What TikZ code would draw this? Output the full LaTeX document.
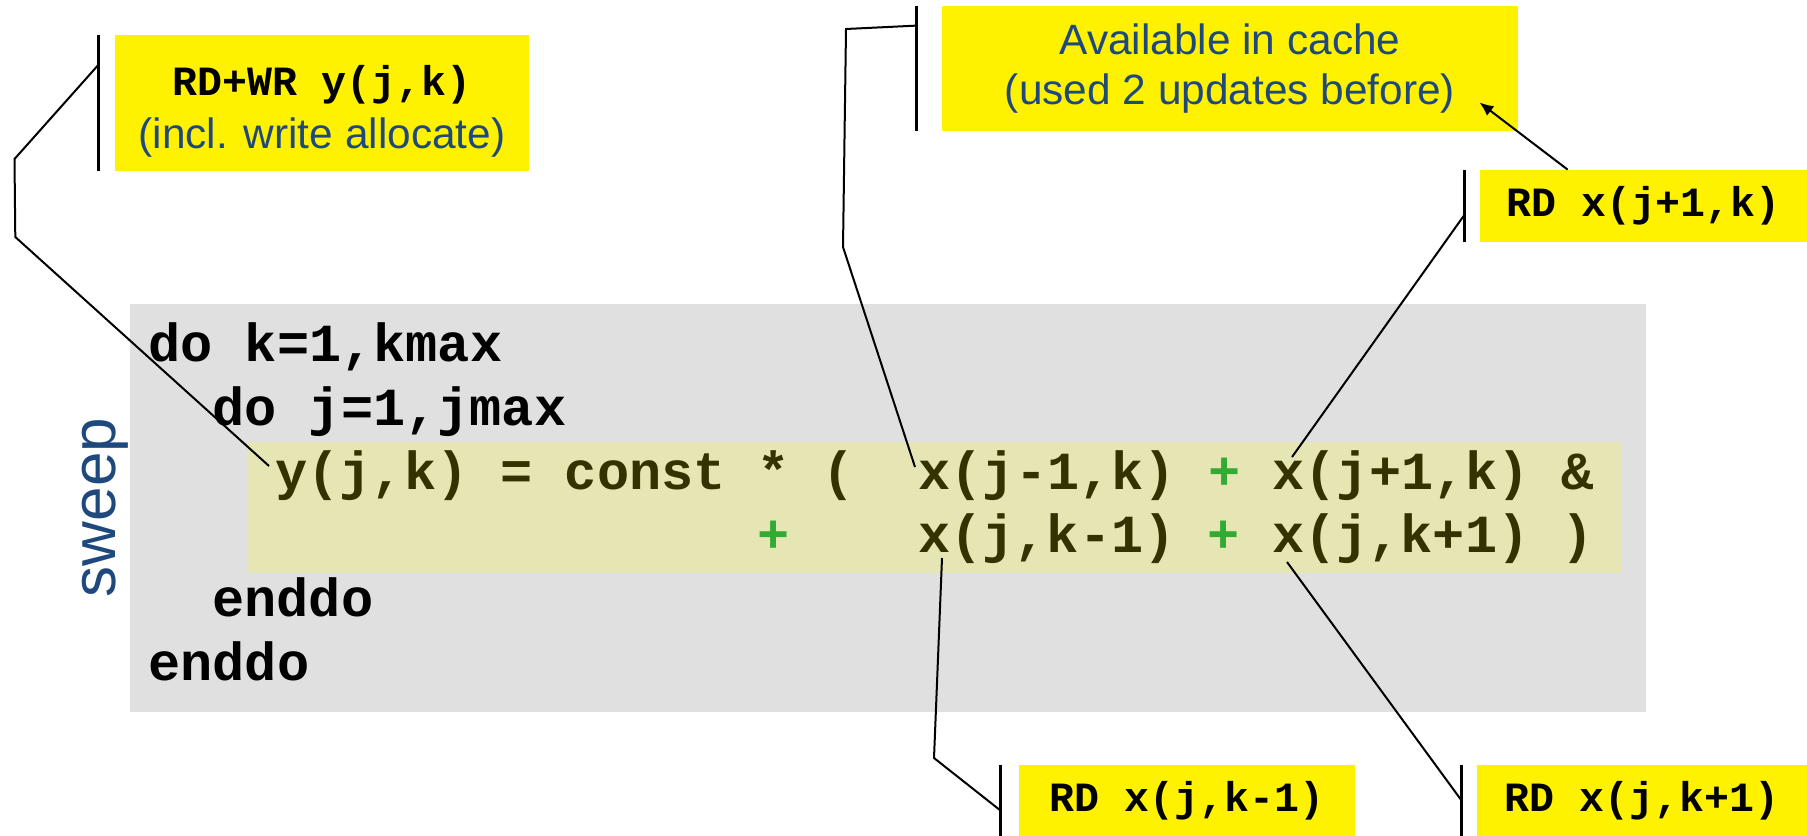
\documentclass[tikz,border=0pt]{standalone}
\usepackage{fontspec}
\setmainfont{Liberation Sans}
\setmonofont{Liberation Mono}
\usetikzlibrary{arrows.meta,calc}
\definecolor{fondgris}{RGB}{224,224,224}
\definecolor{fondboucle}{RGB}{230,230,180}
\definecolor{texteboucle}{RGB}{51,51,0}
\definecolor{vertplus}{RGB}{51,170,51}
\definecolor{bleunote}{RGB}{31,73,125}
\newcommand{\vp}{{\color{vertplus}+}}
\tikzset{
  note/.style={fill=yellow, inner sep=0pt, align=center},
  code/.style={anchor=base west, inner sep=0pt, font=\ttfamily\bfseries\fontsize{26.8pt}{32pt}\selectfont},
  rd/.style={font=\ttfamily\bfseries\fontsize{20.8pt}{26pt}\selectfont},
  fil/.style={line width=1pt},
  barre/.style={line width=1.2pt},
}
\begin{document}
\begin{tikzpicture}[x=0.5pt, y=-0.5pt]
  \useasboundingbox (0,0) rectangle (1807,835);
  % dessiner le fond du code
  \fill[fondgris] (130,304) rectangle (1646,712);
  \fill[fondboucle] (247,442) rectangle (1621,573);

  % dessiner les lignes de code
  \node[code] (boucleK) at (148,361) {do k=1,kmax};
  \node[code] (boucleJ) at (212,425) {do j=1,jmax};
  \node[code, text=texteboucle] (instrA) at (275,489) {y(j,k) = const * (~~x(j-1,k) \vp{} x(j+1,k) \&};
  \node[code, text=texteboucle] (instrB) at (757,552) {\vp~~~~x(j,k-1) \vp{} x(j,k+1) )};
  \node[code] (finJ) at (212,616) {enddo};
  \node[code] (finK) at (148,680) {enddo};
  \node[rotate=90, anchor=base, inner sep=0pt, text=bleunote, font=\fontsize{31pt}{36pt}\selectfont] (sweep) at (115,507.5) {sweep};

  % dessiner les notes
  \node[note, minimum width=207pt, minimum height=68pt, font=\fontsize{21.2pt}{26.6pt}\selectfont] (rdwr) at (322,103)
    {\rule{0pt}{23pt}{\ttfamily\bfseries\fontsize{20.8pt}{26.6pt}\selectfont RD+WR y(j,k)}\\{\color{bleunote}(incl. write allocate)}};
  \node[note, minimum width=288pt, minimum height=62.5pt, text=bleunote, font=\fontsize{21.2pt}{25.3pt}\selectfont] (cache) at (1230,68.5)
    {Available in cache\\(used 2 updates before)};
  \node[note, rd, minimum width=163.5pt, minimum height=36pt] (rdxjp) at (1643.5,206) {RD x(j+1,k)};
  \node[note, rd, minimum width=168pt, minimum height=36pt] (rdxkm) at (1187,801) {RD x(j,k-1)};
  \node[note, rd, minimum width=165pt, minimum height=36pt] (rdxkp) at (1642,801) {RD x(j,k+1)};

  % dessiner les barres
  \foreach \b/\d in {rdwr/8pt, cache/12.5pt, rdxjp/7.5pt, rdxkm/9pt, rdxkp/7.5pt}
    \draw[barre] ([xshift=-\d]\b.north west) -- ([xshift=-\d]\b.south west);

  % points d'attache
  \coordinate (yjk) at (269,466);
  \coordinate (xjm) at (915,467);
  \coordinate (xjp) at (1292,457);
  \coordinate (xkm) at (942,558);
  \coordinate (xkp) at (1287,562);
  \coordinate (rdwr-b) at ($(rdwr.north west)+(-16,30)$);
  \coordinate (cache-b) at ($(cache.north west)+(-25,20)$);
  \coordinate (rdxjp-b) at ($(rdxjp.north west)+(-15,45)$);
  \coordinate (rdxkm-b) at ($(rdxkm.north west)+(-18,46)$);
  \coordinate (rdxkp-b) at ($(rdxkp.north west)+(-15,36)$);
  \coordinate (fleche-a) at ($(rdxjp.north west)+(88,0)$);
  \coordinate (fleche-b) at ($(cache.south east)+(-39,-29)$);

  % dessiner les traits
  \draw[fil] (rdwr-b) -- (14.5,159) -- (15.3,237) -- (yjk);
  \draw[fil] (cache-b) -- (846,29) -- (843,247) -- (xjm);
  \draw[fil] (rdxjp-b) -- (xjp);
  \draw[fil] (xkm) -- (934,758) -- (rdxkm-b);
  \draw[fil] (xkp) -- (rdxkp-b);
  \draw[fil, -{Latex[length=7pt,width=6pt]}] (fleche-a) -- (fleche-b);
\end{tikzpicture}
\end{document}
